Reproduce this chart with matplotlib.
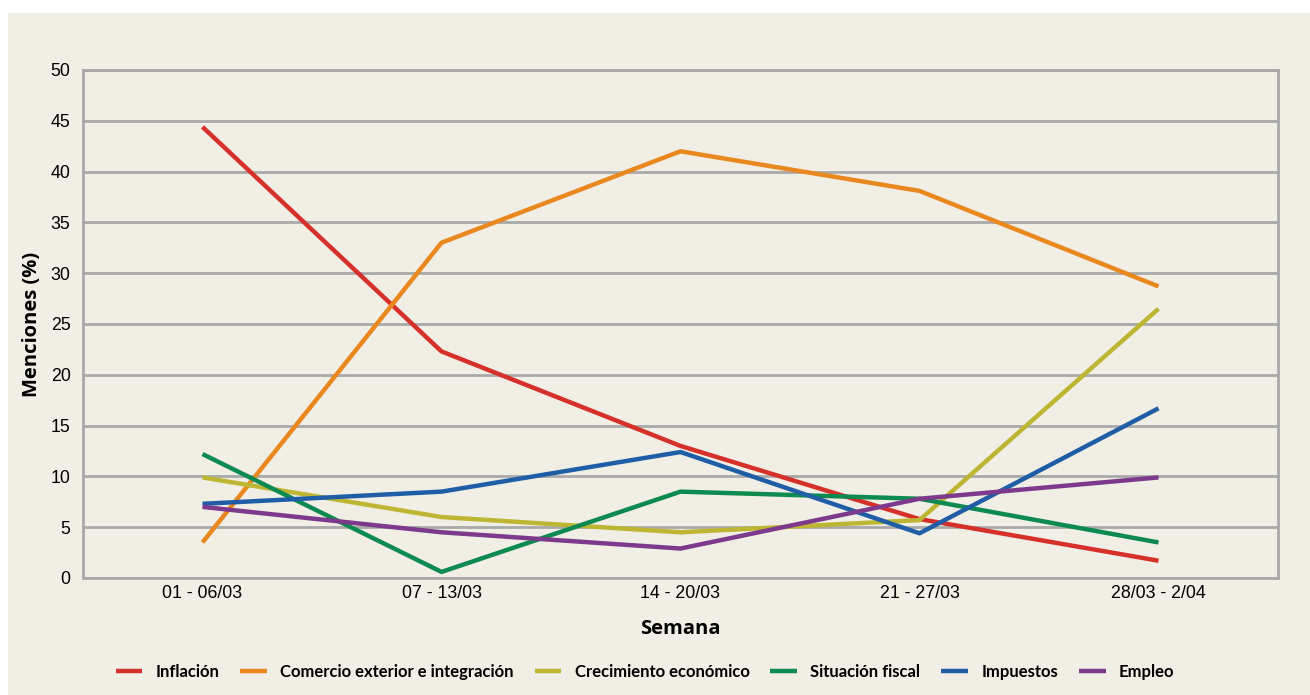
import matplotlib.pyplot as plt
from matplotlib.patches import Rectangle

semanas = ["01 - 06/03", "07 - 13/03", "14 - 20/03", "21 - 27/03", "28/03 - 2/04"]

inflacion = [44.4, 22.3, 13.0, 5.8, 1.7]
comercio = [3.5, 33.0, 42.0, 38.1, 28.7]
crecimiento = [9.9, 6.0, 4.5, 5.7, 26.5]
fiscal = [12.2, 0.6, 8.5, 7.8, 3.5]
impuestos = [7.3, 8.5, 12.4, 4.4, 16.7]
empleo = [7.0, 4.5, 2.9, 7.8, 9.9]

series = [
    ("Inflación", inflacion, "#d6302a"),
    ("Comercio exterior e integración", comercio, "#e8881e"),
    ("Crecimiento económico", crecimiento, "#bdb633"),
    ("Situación fiscal", fiscal, "#0d8a50"),
    ("Impuestos", impuestos, "#1f5ea6"),
    ("Empleo", empleo, "#7d3a8c"),
]

bg = "#f1eee6"
gridc = "#a9a9a9"

fig = plt.figure(figsize=(13.1, 6.95), dpi=100, facecolor="white")
# beige panel behind the chart (white margin on top and left)
fig.patches.append(Rectangle((8 / 1310, 0), 1, 1 - 13 / 695, transform=fig.transFigure,
                             facecolor=bg, edgecolor="none", zorder=-10))

ax = fig.add_axes([83 / 1310, 1 - 578 / 695, (1278 - 83) / 1310, (578 - 70) / 695])
ax.set_facecolor(bg)

x = list(range(len(semanas)))
for name, vals, col in series:
    ax.plot(x, vals, color=col, lw=3.2, label=name, solid_capstyle="butt", zorder=3)

ax.set_xlim(-0.5, 4.5)
ax.set_ylim(0, 50)
ax.set_yticks(range(0, 51, 5))
ax.set_xticks(x)
ax.set_xticklabels(semanas)
ax.yaxis.grid(True, color=gridc, lw=2.0)
ax.set_axisbelow(True)
for s in ax.spines.values():
    s.set_color(gridc)
    s.set_linewidth(2.0)
ax.tick_params(length=0, labelsize=12.8, pad=5)
ax.tick_params(axis="y", pad=9)
for lab in ax.get_xticklabels() + ax.get_yticklabels():
    lab.set_fontfamily("Liberation Sans")

ax.set_xlabel("Semana", fontsize=14.5, fontweight="bold", family="Open Sans", labelpad=12)
ax.set_ylabel("Menciones (%)", fontsize=14.5, fontweight="bold", family="Open Sans")
ax.yaxis.set_label_coords(-41 / 1195, 0.5)

leg = fig.legend(loc="center", bbox_to_anchor=(645 / 1310, 1 - 672 / 695), ncol=6,
                 frameon=False, handlelength=1.6, handletextpad=0.8, columnspacing=1.25,
                 prop={"family": "Lato", "weight": "bold", "size": 12})

fig.savefig("out.png", dpi=100, facecolor="white")
